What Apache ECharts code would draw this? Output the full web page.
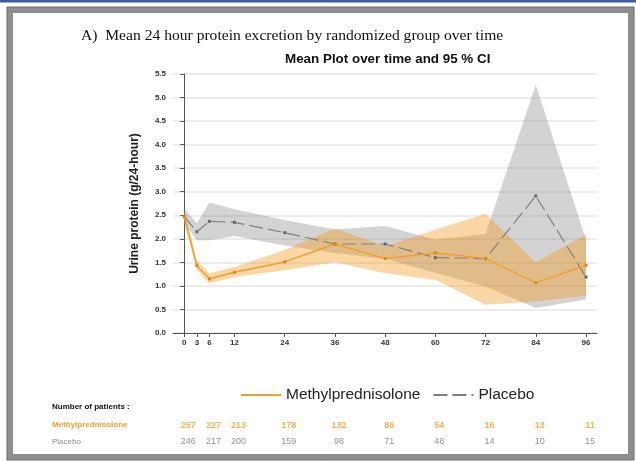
<!DOCTYPE html>
<html>
<head>
<meta charset="utf-8">
<script src="https://cdn.jsdelivr.net/npm/echarts@6/dist/echarts.min.js"></script>
<style>
html,body{margin:0;padding:0;background:#fff;}
#c{width:636px;height:461px;}
</style>
</head>
<body>
<div id="c"></div>
<script>
// ---- data ----
var hours = [0, 3, 6, 12, 24, 36, 48, 60, 72, 84, 96];
var methylMean  = [2.47, 1.43, 1.15, 1.29, 1.51, 1.89, 1.58, 1.70, 1.58, 1.07, 1.44];
var methylUpper = [2.60, 1.54, 1.27, 1.40, 1.76, 2.22, 1.84, 2.19, 2.53, 1.50, 2.09];
var methylLower = [2.33, 1.34, 1.05, 1.19, 1.33, 1.50, 1.27, 1.13, 0.60, 0.67, 0.79];
var placeboMean  = [2.47, 2.15, 2.37, 2.35, 2.13, 1.89, 1.89, 1.60, 1.58, 2.91, 1.19];
var placeboUpper = [2.64, 2.33, 2.77, 2.63, 2.40, 2.20, 2.27, 1.98, 2.10, 5.27, 1.98];
var placeboLower = [2.33, 1.97, 1.97, 2.06, 1.86, 1.70, 1.57, 1.28, 0.99, 0.53, 0.71];
var xTicks = [0, 3, 6, 12, 24, 36, 48, 60, 72, 84, 96];
var tableHours = [0, 6, 12, 24, 36, 48, 60, 72, 84, 96];
var methylN  = [257, 227, 213, 178, 132, 86, 54, 16, 13, 11];
var placeboN = [246, 217, 200, 159, 98, 71, 48, 14, 10, 15];
var groups = ['Methylprednisolone', 'Placebo'];
var mainTitle = 'A)  Mean 24 hour protein excretion by randomized group over time';
var subTitle = 'Mean Plot over time and 95 % CI';
var yName = 'Urine protein (g/24-hour)';
var tableHeading = 'Number of patients :';

var ORANGE = '#f0a028';
var GRAY = '#808080';
var FONT = 'Liberation Sans, Arial, sans-serif';

function bandSeries(upper, lower, fill, z) {
  return {
    type: 'custom',
    xAxisIndex: 0, yAxisIndex: 0,
    silent: true,
    z: z,
    data: hours.map(function (h, i) { return [h, lower[i], upper[i]]; }),
    encode: { x: 0, y: [1, 2] },
    renderItem: function (params, api) {
      if (params.dataIndex !== 0) return null;
      var pts = [];
      for (var i = 0; i < hours.length; i++) pts.push(api.coord([hours[i], upper[i]]));
      for (var j = hours.length - 1; j >= 0; j--) pts.push(api.coord([hours[j], lower[j]]));
      return { type: 'polygon', shape: { points: pts }, style: { fill: fill } };
    }
  };
}

var chart = echarts.init(document.getElementById('c'), null, { renderer: 'canvas' });
chart.setOption({
  backgroundColor: '#ffffff',
  animation: false,
  textStyle: { fontFamily: FONT },
  title: [
    { text: mainTitle, left: 76, top: 23,
      textStyle: { fontFamily: 'Liberation Serif, Times New Roman, serif', fontSize: 15.6, fontWeight: 'normal', color: '#111' } },
    { text: subTitle, left: 280, top: 48,
      textStyle: { fontFamily: FONT, fontSize: 13.4, fontWeight: 'bold', color: '#111' } }
  ],
  legend: {
    data: groups,
    left: 235, top: 382,
    itemWidth: 40, itemHeight: 14, itemGap: 12,
    textStyle: { fontSize: 15.5, color: '#222', fontFamily: FONT },
    itemStyle: { opacity: 0 }
  },
  grid: [
    { left: 173, right: 39, top: 74, bottom: 128 },
    { left: 173, right: 39, top: 417, height: 33 }
  ],
  xAxis: [
    {
      type: 'value', gridIndex: 0, min: -2.7, max: 98.63,
      axisLine: { show: true, lineStyle: { color: '#555', width: 1 } },
      axisTick: { show: true, length: 4, customValues: xTicks, lineStyle: { color: '#555' } },
      axisLabel: { customValues: xTicks, fontSize: 8, fontWeight: 'bold', color: '#333', margin: 6 },
      splitLine: { show: false }
    },
    {
      type: 'value', gridIndex: 1, min: -2.7, max: 98.63, show: false
    }
  ],
  yAxis: [
    {
      type: 'value', gridIndex: 0, min: 0, max: 5.5, interval: 0.5,
      name: yName, nameLocation: 'middle', nameGap: 32,
      nameTextStyle: { fontSize: 12, fontWeight: 'bold', color: '#222', fontFamily: FONT },
      axisLine: { show: true, lineStyle: { color: '#555', width: 1 } },
      axisTick: { show: true, length: 4, lineStyle: { color: '#555' } },
      axisLabel: { fontSize: 8, fontWeight: 'bold', color: '#333', margin: 7,
        formatter: function (v) { return v.toFixed(1); } },
      splitLine: { show: true, lineStyle: { color: '#e6e6e6', width: 1.5 } }
    },
    {
      type: 'category', gridIndex: 1, data: groups, inverse: true,
      axisLine: { show: false }, axisTick: { show: false }, splitLine: { show: false },
      axisLabel: { show: true, align: 'left', margin: 121, fontSize: 8,
        formatter: function (v, i) { return i === 0 ? '{m|' + v + '}' : '{p|' + v + '}'; },
        rich: {
          m: { fontSize: 8, fontWeight: 'bold', color: ORANGE, fontFamily: FONT },
          p: { fontSize: 8, fontWeight: 'normal', color: '#888', fontFamily: FONT }
        } }
    }
  ],
  series: [
    bandSeries(placeboUpper, placeboLower, 'rgba(140,140,140,0.38)', 1),
    bandSeries(methylUpper, methylLower, 'rgba(247,150,20,0.38)', 2),
    {
      name: 'Placebo', type: 'line', xAxisIndex: 0, yAxisIndex: 0, z: 3,
      data: hours.map(function (h, i) { return [h, placeboMean[i]]; }),
      symbol: 'rect', symbolSize: 3, showSymbol: true,
      itemStyle: { color: '#6a6a6a' },
      lineStyle: { color: GRAY, width: 1.2, type: [14, 5] }
    },
    {
      name: 'Methylprednisolone', type: 'line', xAxisIndex: 0, yAxisIndex: 0, z: 4,
      data: hours.map(function (h, i) { return [h, methylMean[i]]; }),
      symbol: 'rect', symbolSize: 3, showSymbol: true,
      itemStyle: { color: '#d88a14' },
      lineStyle: { color: ORANGE, width: 1.5 }
    },
    {
      type: 'scatter', xAxisIndex: 1, yAxisIndex: 1, silent: true,
      symbolSize: 1, itemStyle: { color: 'transparent' },
      data: tableHours.map(function (h, i) { return [h, 0, methylN[i]]; }),
      label: { show: true, position: 'inside', offset: [4, 0], fontSize: 9, fontWeight: 'bold', color: ORANGE,
        formatter: function (p) { return String(p.value[2]); } }
    },
    {
      type: 'scatter', xAxisIndex: 1, yAxisIndex: 1, silent: true,
      symbolSize: 1, itemStyle: { color: 'transparent' },
      data: tableHours.map(function (h, i) { return [h, 1, placeboN[i]]; }),
      label: { show: true, position: 'inside', offset: [4, 0], fontSize: 9, fontWeight: 'normal', color: '#777',
        formatter: function (p) { return String(p.value[2]); } }
    }
  ],
  graphic: [
    { type: 'rect', silent: true, z: 100, shape: { x: 0, y: 0, width: 636, height: 2.5 }, style: { fill: '#3b5b9b' } },
    { type: 'rect', silent: true, z: 100, shape: { x: 10, y: 10, width: 621, height: 447 },
      style: { fill: 'none', stroke: '#8e8e8e', lineWidth: 6 } },
    { type: 'rect', silent: true, z: 101, shape: { x: 7, y: 7, width: 627, height: 453 },
      style: { fill: 'none', stroke: '#6a6a6a', lineWidth: 1 } },
    { type: 'text', silent: true, left: 52, top: 403,
      style: { text: tableHeading, fontSize: 8, fontWeight: 'bold', fill: '#111', fontFamily: FONT } }
  ]
});
</script>
</body>
</html>
